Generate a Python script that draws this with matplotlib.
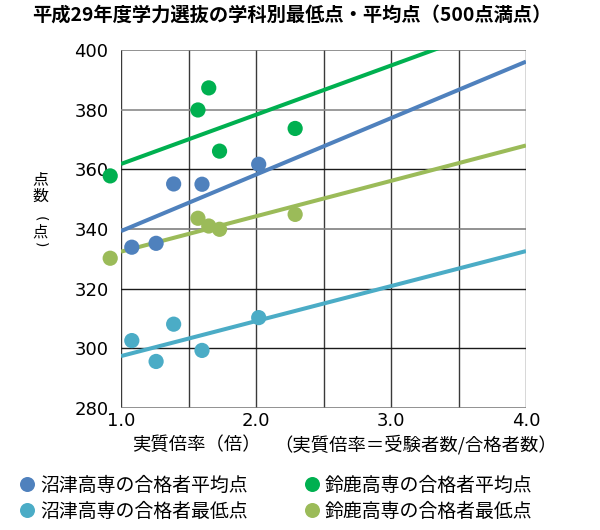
import matplotlib
matplotlib.use("Agg")
import matplotlib.pyplot as plt
from matplotlib.lines import Line2D

plt.rcParams['font.family'] = ['Noto Sans CJK JP', 'DejaVu Sans']

# 沼津高専（実質倍率, 平均点, 最低点）
numazu_rate = [1.08, 1.26, 1.39, 1.60, 2.02]
numazu_avg = [333.9, 335.2, 355.1, 355.0, 361.7]
numazu_min = [302.6, 295.6, 308.1, 299.3, 310.3]

# 鈴鹿高専
suzuka_rate = [0.92, 1.57, 1.65, 1.73, 2.29]
suzuka_avg = [357.8, 379.9, 387.3, 366.1, 373.7]
suzuka_min = [330.2, 343.6, 341.0, 339.9, 344.9]

# 近似直線（x=1.0 と x=4.0 での値）
trend_x = [1.0, 4.0]
trend_numazu_avg = [339.3, 396.1]
trend_numazu_min = [297.4, 332.6]
trend_suzuka_avg = [361.8, 411.3]
trend_suzuka_min = [332.4, 368.0]

x_ticks = [1.0, 2.0, 3.0, 4.0]
y_ticks = [280, 300, 320, 340, 360, 380, 400]

labels = ['沼津高専の合格者平均点', '沼津高専の合格者最低点',
          '鈴鹿高専の合格者平均点', '鈴鹿高専の合格者最低点']
colors = ['#4F81BD', '#4BACC6', '#00B050', '#9BBB59']

W, H = 600, 530
fig = plt.figure(figsize=(6.0, 5.3), dpi=100)
ax = fig.add_axes([121 / W, 1 - 408 / H, 405 / W, 358 / H])

# グリッド
for x in [1.0, 1.5, 2.0, 2.5, 3.0, 3.5, 4.0]:
    ax.axvline(x, color='#3a3a3a', lw=1.0, zorder=1)
grid_col = {280: '#7f7f7f', 300: '#1a1a1a', 320: '#1a1a1a', 340: '#7f7f7f',
            360: '#1a1a1a', 380: '#8a8a8a', 400: '#7f7f7f'}
for y in y_ticks:
    ax.axhline(y, color=grid_col[y], lw=1.2 if grid_col[y] != '#1a1a1a' else 1.0, zorder=1)

# 近似直線
trends = [trend_numazu_avg, trend_numazu_min, trend_suzuka_avg, trend_suzuka_min]
for tr, c in zip(trends, colors):
    ax.plot(trend_x, tr, color=c, lw=2.9, solid_capstyle='butt', zorder=2)

# 散布点
series = [(numazu_rate, numazu_avg), (numazu_rate, numazu_min),
          (suzuka_rate, suzuka_avg), (suzuka_rate, suzuka_min)]
for (xs, ys), c in zip(series, colors):
    ax.scatter(xs, ys, s=120, color=c, edgecolors='none', zorder=3, clip_on=False)

ax.set_xlim(1.0, 4.0)
ax.set_ylim(280, 400)
ax.set_xticks(x_ticks)
ax.set_xticklabels(['%.1f' % v for v in x_ticks], family='DejaVu Sans', fontsize=13)
ax.set_yticks(y_ticks)
ax.set_yticklabels([str(v) for v in y_ticks], family='DejaVu Sans', fontsize=13)
ax.tick_params(length=0, pad=3)
ax.tick_params(axis='y', pad=9)
for s in ax.spines.values():
    s.set_visible(False)

fig.text(292 / W, 1 - 15 / H, '平成29年度学力選抜の学科別最低点・平均点（500点満点）',
         ha='center', va='center', fontsize=13.9, fontweight='bold')

# 縦書きの軸ラベル（括弧は回転して縦向きに）
fig.text(40 / W, 1 - 188 / H, '点\n数', ha='center', va='center',
         fontsize=11.5, linespacing=0.95)
fig.text(40 / W, 1 - 219 / H, '(', ha='center', va='center', fontsize=10,
         rotation=-90, family='DejaVu Sans')
fig.text(40 / W, 1 - 232 / H, '点', ha='center', va='center', fontsize=11)
fig.text(40 / W, 1 - 245 / H, ')', ha='center', va='center', fontsize=10,
         rotation=-90, family='DejaVu Sans')

fig.text(274 / W, 1 - 445 / H, '（実質倍率＝受験者数/合格者数）', ha='left', va='center', fontsize=13.2)
fig.text(132 / W, 1 - 445 / H, '実質倍率（倍）', ha='left', va='center', fontsize=13.2)

handles = [Line2D([], [], marker='o', ls='none', markersize=10.8,
                  markerfacecolor=c, markeredgecolor='none') for c in colors]
fig.legend(handles, labels, ncol=2, loc='upper left', bbox_to_anchor=(19 / W, 1 - 475 / H),
           frameon=False, fontsize=13.6, handlelength=0.8, handletextpad=0.3,
           columnspacing=3.0, labelspacing=0.25, borderaxespad=0, borderpad=0)

fig.savefig('out.png', dpi=100)
